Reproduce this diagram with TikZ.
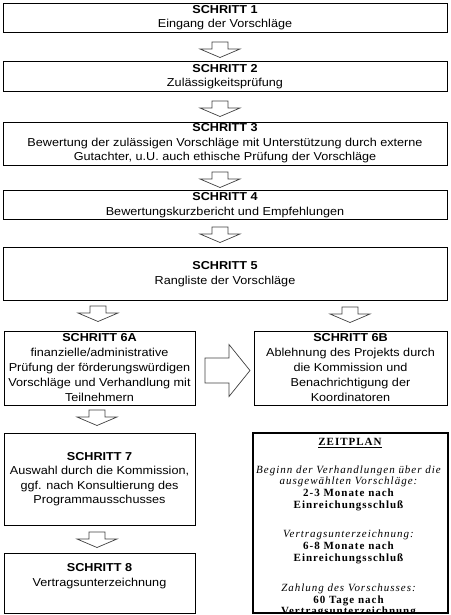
\documentclass[tikz,border=0pt]{standalone}
\usepackage{fontspec}
\setmainfont[FakeStretch=1.1]{Liberation Sans}
\newfontfamily\zf[LetterSpace=9]{Liberation Serif}
\usetikzlibrary{calc}
\tikzset{
  box/.style={draw=black, line width=0.9pt, inner sep=0pt},
  tl/.style={anchor=base, inner sep=0pt, font=\fontsize{11.5}{14}\selectfont},
  tb/.style={tl, font=\fontsize{11.5}{14}\selectfont\bfseries},
  zbox/.style={draw=black, line width=1.7pt},
  ztext/.style={align=center, inner sep=0pt, font=\zf\fontsize{11}{11.7}\selectfont},
  arrowline/.style={draw=black!75, line width=0.7pt, line join=miter},
  downarr/.pic={\draw[arrowline] (-8,0) -- (8,0) -- (8,7) -- (20,7) -- (0,15.5) -- (-20,7) -- (-8,7) -- cycle;},
  rightarr/.pic={\draw[arrowline] (0,-12.5) -- (24,-12.5) -- (24,-26) -- (45,0) -- (24,26) -- (24,12.5) -- (0,12.5) -- cycle;}
}
\begin{document}
\begin{tikzpicture}[x=1pt,y=-1pt]
\useasboundingbox (0,0) rectangle (450,615);
% boxes
\node[box, minimum width=444pt, minimum height=29pt] (s1) at (225,17.5) {};
\node[box, minimum width=444pt, minimum height=30pt] (s2) at (225,76) {};
\node[box, minimum width=444pt, minimum height=43pt] (s3) at (225,143.5) {};
\node[box, minimum width=444pt, minimum height=29pt] (s4) at (225,204.5) {};
\node[box, minimum width=444pt, minimum height=53pt] (s5) at (225,273.5) {};
\node[box, minimum width=191pt, minimum height=74pt] (s6a) at (99.5,368) {};
\node[box, minimum width=193pt, minimum height=74pt] (s6b) at (350.5,368) {};
\node[box, minimum width=191pt, minimum height=92pt] (s7) at (99.5,479) {};
\node[box, minimum width=191pt, minimum height=60pt] (s8) at (99.5,583) {};
% box texts
\node[tb] (s1a) at (225,13.3) {SCHRITT 1};
\node[tl] (s1b) at (225,27.7) {Eingang der Vorschläge};
\node[tb] (s2a) at (225,73) {SCHRITT 2};
\node[tl] (s2b) at (225,87) {Zulässigkeitsprüfung};
\node[tb] (s3a) at (225,131.5) {SCHRITT 3};
\node[tl] (s3b) at (225,146) {Bewertung der zulässigen Vorschläge mit Unterstützung durch externe};
\node[tl] (s3c) at (225,160.5) {Gutachter, u.U. auch ethische Prüfung der Vorschläge};
\node[tb] (s4a) at (225,200.5) {SCHRITT 4};
\node[tl] (s4b) at (225,215) {Bewertungskurzbericht und Empfehlungen};
\node[tb] (s5a) at (225,269.5) {SCHRITT 5};
\node[tl] (s5b) at (225,284) {Rangliste der Vorschläge};
\node[tb] (s6aa) at (99.5,341) {SCHRITT 6A};
\node[tl] (s6ab) at (99.5,356) {finanzielle/administrative};
\node[tl] (s6ac) at (99.5,371) {Prüfung der förderungswürdigen};
\node[tl] (s6ad) at (99.5,386) {Vorschläge und Verhandlung mit};
\node[tl] (s6ae) at (99.5,401) {Teilnehmern};
\node[tb] (s6ba) at (350.5,341) {SCHRITT 6B};
\node[tl] (s6bb) at (350.5,356) {Ablehnung des Projekts durch};
\node[tl] (s6bc) at (350.5,371) {die Kommission und};
\node[tl] (s6bd) at (350.5,386) {Benachrichtigung der};
\node[tl] (s6be) at (350.5,401) {Koordinatoren};
\node[tb] (s7a) at (99.5,460) {SCHRITT 7};
\node[tl] (s7b) at (99.5,474.5) {Auswahl durch die Kommission,};
\node[tl] (s7c) at (99.5,489) {ggf. nach Konsultierung des};
\node[tl] (s7d) at (99.5,503.5) {Programmausschusses};
\node[tb] (s8a) at (99.5,571.5) {SCHRITT 8};
\node[tl] (s8b) at (99.5,586) {Vertragsunterzeichnung};
% Zeitplan
\node[minimum width=194pt, minimum height=180pt, inner sep=0pt] (z) at (350.5,523) {};
\begin{scope}
\clip (z.south west) rectangle (z.north east);
\node[ztext] (z0) at (350,443) {\textbf{\underline{ZEITPLAN}}};
\node[ztext] (z1) at (349,488) {\textit{Beginn der Verhandlungen über die}\\\textit{ausgewählten Vorschläge:}\\\textbf{2-3 Monate nach}\\\textbf{Einreichungsschluß}};
\node[ztext] (z2) at (349,547) {\textit{Vertragsunterzeichnung:}\\\textbf{6-8 Monate nach}\\\textbf{Einreichungsschluß}};
\node[ztext] (z3) at (349,600.5) {\textit{Zahlung des Vorschusses:}\\\textbf{60 Tage nach}\\\textbf{Vertragsunterzeichnung}};
\end{scope}
\draw[zbox] (z.south west) rectangle (z.north east);
% arrows
\coordinate (a1) at (220,42);
\coordinate (a2) at (220,101);
\coordinate (a3) at (220,172);
\coordinate (a4) at (220,227);
\coordinate (a5l) at (98,306);
\coordinate (a5r) at (350,307);
\coordinate (a6) at (97,410);
\coordinate (a7) at (97,532);
\coordinate (ar) at (205,370.5);
\pic at (a1) {downarr};
\pic at (a2) {downarr};
\pic at (a3) {downarr};
\pic at (a4) {downarr};
\pic at (a5l) {downarr};
\pic at (a5r) {downarr};
\pic at (a6) {downarr};
\pic at (a7) {downarr};
\pic at (ar) {rightarr};
\end{tikzpicture}
\end{document}
